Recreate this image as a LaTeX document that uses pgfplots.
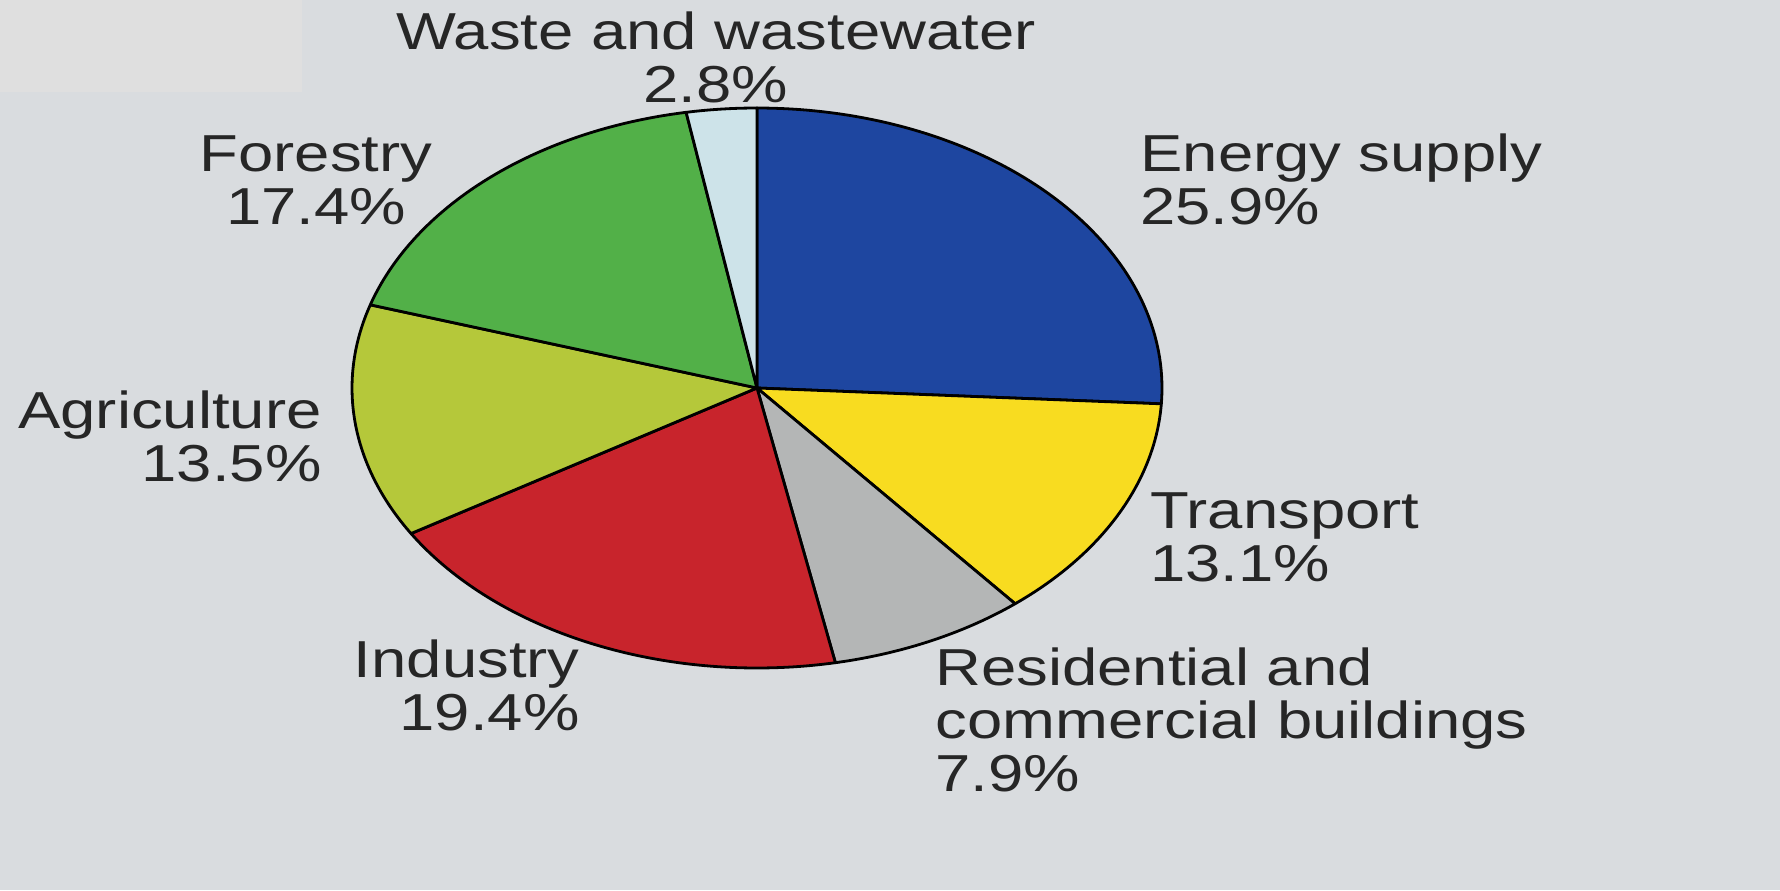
\documentclass[border=0pt]{standalone}
\usepackage{pgfplots}
\pgfplotsset{compat=1.18}
\usepackage{fontspec}
\setmainfont{Liberation Sans}
\definecolor{bg}{HTML}{D9DCDF}
\definecolor{bglight}{HTML}{DFDFDF}
\definecolor{cEnergy}{HTML}{1E46A0}
\definecolor{cTransport}{HTML}{F8DC20}
\definecolor{cResid}{HTML}{B4B6B6}
\definecolor{cIndustry}{HTML}{C8242C}
\definecolor{cAgri}{HTML}{B5C83A}
\definecolor{cForest}{HTML}{52B048}
\definecolor{cWaste}{HTML}{CDE3E9}
\definecolor{txt}{HTML}{262626}
\newcommand{\lab}[2]{\scalebox{1.22}[1]{\fontsize{26}{26.5}\selectfont\color{txt}\begin{tabular}[t]{@{}#1@{}}#2\end{tabular}}}
\begin{document}
\begin{tikzpicture}
\begin{axis}[
  scale only axis, width=890pt, height=445pt,
  xmin=0, xmax=1780, ymin=0, ymax=890,
  hide axis, clip=false,
  trig format plots=deg,
]
\fill[bg] (rel axis cs:0,0) rectangle (rel axis cs:1,1);
\fill[bglight] (axis cs:0,798) rectangle (axis cs:302,890);
% shares (%): Energy 25.9, Transport 13.1, Residential 7.9, Industry 19.4,
% Agriculture 13.5, Forestry 17.4, Waste 2.8 -- clockwise from top, 3.6 deg per %
\pgfplotsset{every axis plot/.append style={draw=black, line width=1.4pt, line join=round, samples=80, variable=\t}}
\addplot[fill=cEnergy, domain=-3.24:90] ({757+405*cos(\t)},{502+280*sin(\t)}) -- (axis cs:757,502) -- cycle;
\addplot[fill=cTransport, domain=-50.40:-3.24] ({757+405*cos(\t)},{502+280*sin(\t)}) -- (axis cs:757,502) -- cycle;
\addplot[fill=cResid, domain=-78.84:-50.40] ({757+405*cos(\t)},{502+280*sin(\t)}) -- (axis cs:757,502) -- cycle;
\addplot[fill=cIndustry, domain=-148.68:-78.84] ({757+405*cos(\t)},{502+280*sin(\t)}) -- (axis cs:757,502) -- cycle;
\addplot[fill=cAgri, domain=-197.28:-148.68] ({757+405*cos(\t)},{502+280*sin(\t)}) -- (axis cs:757,502) -- cycle;
\addplot[fill=cForest, domain=-259.92:-197.28] ({757+405*cos(\t)},{502+280*sin(\t)}) -- (axis cs:757,502) -- cycle;
\addplot[fill=cWaste, domain=-270:-259.92] ({757+405*cos(\t)},{502+280*sin(\t)}) -- (axis cs:757,502) -- cycle;

\node[anchor=base, inner sep=0] at (axis cs:716,840) {\lab{c}{Waste and wastewater\\2.8\%}};
\node[anchor=base west, inner sep=0] at (axis cs:1140,718) {\lab{l}{Energy supply\\25.9\%}};
\node[anchor=base west, inner sep=0] at (axis cs:1150,362) {\lab{l}{Transport\\13.1\%}};
\node[anchor=base west, inner sep=0] at (axis cs:935,205) {\lab{l}{Residential and\\commercial buildings\\7.9\%}};
\node[anchor=base east, inner sep=0] at (axis cs:580,213) {\lab{r}{Industry\\19.4\%}};
\node[anchor=base east, inner sep=0] at (axis cs:322,462) {\lab{r}{Agriculture\\13.5\%}};
\node[anchor=base, inner sep=0] at (axis cs:316,718) {\lab{c}{Forestry\\17.4\%}};
\end{axis}
\end{tikzpicture}
\end{document}
